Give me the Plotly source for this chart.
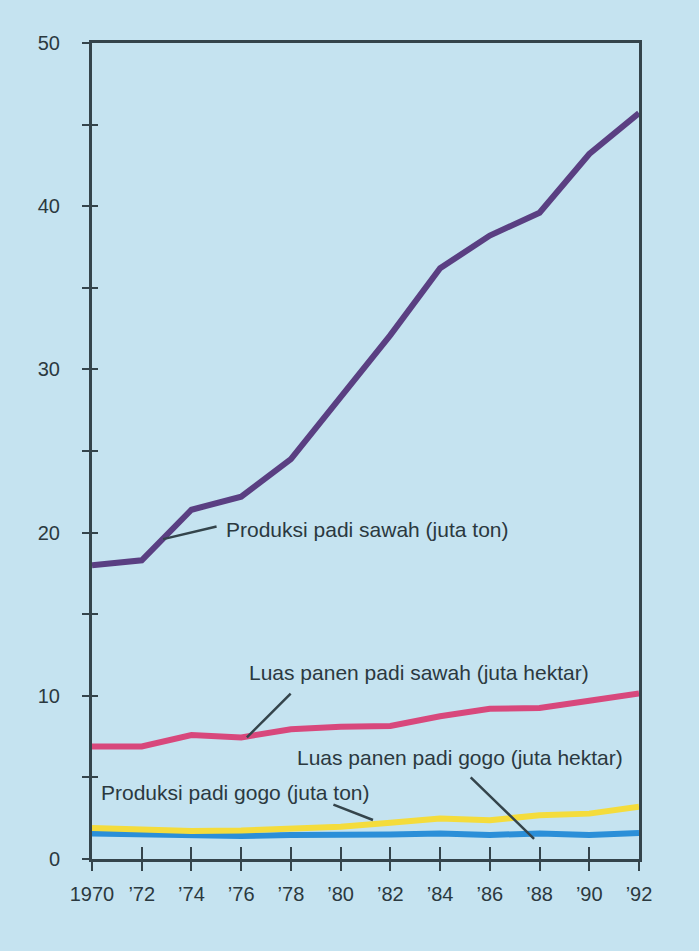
import plotly.graph_objects as go

years = [1970, 1972, 1974, 1976, 1978, 1980, 1982, 1984, 1986, 1988, 1990, 1992]
year_labels = ["1970", "’72", "’74", "’76", "’78", "’80", "’82", "’84", "’86", "’88", "’90", "’92"]

produksi_sawah = [18.0, 18.3, 21.4, 22.2, 24.5, 28.3, 32.1, 36.2, 38.2, 39.6, 43.2, 45.7]
luas_sawah = [6.9, 6.9, 7.6, 7.45, 7.95, 8.1, 8.15, 8.75, 9.2, 9.25, 9.7, 10.15]
produksi_gogo = [1.9, 1.8, 1.72, 1.75, 1.82, 1.98, 2.22, 2.48, 2.38, 2.68, 2.78, 3.2]
luas_gogo = [1.57, 1.5, 1.41, 1.41, 1.47, 1.47, 1.5, 1.57, 1.47, 1.57, 1.47, 1.6]

y_ticks = [0, 5, 10, 15, 20, 25, 30, 35, 40, 45, 50]
y_labels = ["0", "", "10", "", "20", "", "30", "", "40", "", "50"]

BG = "#c5e3f0"
AX = "#34444b"
TXT = "#2b393f"
FONT = "Liberation Sans, Arial, sans-serif"

fig = go.Figure()
fig.add_trace(go.Scatter(x=years, y=luas_gogo, mode="lines",
                         line=dict(color="#2b8fd8", width=6), hoverinfo="skip"))
fig.add_trace(go.Scatter(x=years, y=produksi_gogo, mode="lines",
                         line=dict(color="#f4dc3c", width=6), hoverinfo="skip"))
fig.add_trace(go.Scatter(x=years, y=luas_sawah, mode="lines",
                         line=dict(color="#d8487c", width=6), hoverinfo="skip"))
fig.add_trace(go.Scatter(x=years, y=produksi_sawah, mode="lines",
                         line=dict(color="#5a3f82", width=6), hoverinfo="skip"))
# empty trace to host overlay axes (inside tick marks)
fig.add_trace(go.Scatter(x=[], y=[], xaxis="x2", yaxis="y2", hoverinfo="skip"))

fig.update_layout(
    width=699, height=951,
    margin=dict(l=92, r=60, t=43, b=92),
    paper_bgcolor=BG, plot_bgcolor=BG,
    showlegend=False,
    font=dict(family=FONT, color=TXT, size=20),
    xaxis=dict(range=[1970, 1992], tickvals=years, ticktext=year_labels,
               showgrid=False, zeroline=False, showline=True, mirror=True,
               linecolor=AX, linewidth=3, ticks="outside", ticklen=9,
               tickwidth=2, tickcolor=AX, ticklabelstandoff=6,
               tickfont=dict(size=20, color=TXT, family=FONT)),
    yaxis=dict(range=[0, 50], tickvals=y_ticks, ticktext=y_labels,
               showgrid=False, zeroline=False, showline=True, mirror=True,
               linecolor=AX, linewidth=3, ticks="outside", ticklen=7,
               tickwidth=2, tickcolor=AX, ticklabelstandoff=18,
               tickfont=dict(size=20, color=TXT, family=FONT)),
    xaxis2=dict(range=[1970, 1992], tickvals=years, overlaying="x", anchor="y",
                side="bottom", showgrid=False, zeroline=False, showline=False,
                ticks="inside", ticklen=12, tickwidth=2, tickcolor=AX,
                showticklabels=False),
    yaxis2=dict(range=[0, 50], tickvals=y_ticks, overlaying="y", anchor="x",
                side="left", showgrid=False, zeroline=False, showline=False,
                ticks="inside", ticklen=6, tickwidth=2, tickcolor=AX,
                showticklabels=False),
)

labels = [
    ("Produksi padi sawah (juta ton)", 1975.3, 20.2),
    ("Luas panen padi sawah (juta hektar)", 1976.25, 11.45),
    ("Luas panen padi gogo (juta hektar)", 1978.15, 6.25),
    ("Produksi padi gogo (juta ton)", 1970.3, 4.1),
]
for text, lx, ly in labels:
    fig.add_annotation(x=lx, y=ly, xref="x", yref="y", text=text,
                       showarrow=False, xanchor="left", yanchor="middle",
                       font=dict(size=21, color=TXT, family=FONT))

connectors = [
    ((1975.07, 20.4), (1972.86, 19.6)),
    ((1978.05, 10.23), (1976.23, 7.45)),
    ((1979.65, 3.37), (1981.3, 2.39)),
    ((1985.17, 5.09), (1987.78, 1.23)),
]
for (tx, ty), (hx, hy) in connectors:
    fig.add_annotation(x=hx, y=hy, ax=tx, ay=ty, xref="x", yref="y",
                       axref="x", ayref="y", text="", showarrow=True,
                       arrowhead=0, arrowwidth=2.5, arrowcolor=AX)

fig.write_html(
    "out.html",
    config={"displayModeBar": False},
    post_script="document.body.style.margin='0';document.body.style.background='" + BG + "';",
)
